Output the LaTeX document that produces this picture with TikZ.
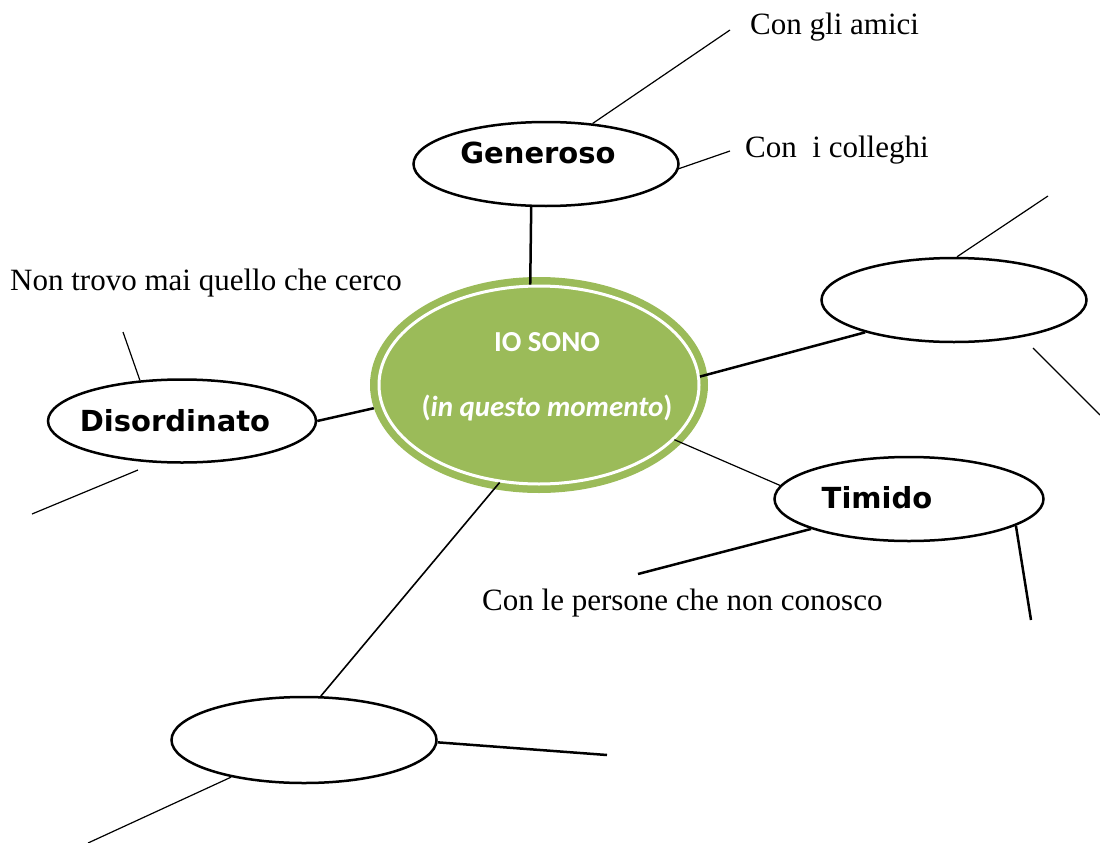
\documentclass[tikz,border=0pt]{standalone}
\usepackage{fontspec}
\setmainfont{Liberation Serif}
\newfontfamily\labelfont{DejaVu Sans}
\newfontfamily\ctrfont{Carlito}
\usetikzlibrary{shapes.geometric}
\definecolor{olivegreen}{HTML}{9BBB59}
\begin{document}
\begin{tikzpicture}[x=1pt,y=-1pt,
  bubble/.style={ellipse, draw=black, line width=2.5pt, fill=white, inner sep=0pt, minimum width=265pt},
  bubbletext/.style={font=\labelfont\bfseries\fontsize{29}{34}\selectfont, inner sep=0pt},
  note/.style={font=\fontsize{31}{36}\selectfont, inner sep=0pt, anchor=base west},
  thinlink/.style={line width=1.2pt},
  midlink/.style={line width=1.6pt},
  thicklink/.style={line width=2.5pt},
]
\useasboundingbox (0,0) rectangle (1100,843);

% central node
\node[ellipse, fill=olivegreen, inner sep=0pt, minimum width=338pt, minimum height=216pt] (ctr) at (539,385) {};
\node[ellipse, draw=white, line width=3pt, inner sep=0pt, minimum width=320pt, minimum height=198pt] (ctrin) at (539,385) {};
\node[font=\ctrfont\bfseries\fontsize{29}{65}\selectfont, text=white, align=center, inner sep=0pt] (ctrlabel) at (547,377) {IO SONO\\(\textit{in questo momento})};

% satellite bubbles
\node[bubble, minimum height=84pt] (gen) at (546,164) {};
\node[bubbletext] (genlabel) at (538,153) {Generoso};
\node[bubble, minimum height=84pt] (r1) at (954,300) {};
\node[bubble, minimum width=269pt, minimum height=84pt] (tim) at (909,499) {};
\node[bubbletext] (timlabel) at (877,498) {Timido};
\node[bubble, minimum width=268pt, minimum height=83pt] (dis) at (182,421) {};
\node[bubbletext] (dislabel) at (175,421) {Disordinato};
\node[bubble, minimum height=86pt] (b1) at (304,740) {};

% notes
\node[note] (amici) at (750,35) {Con gli amici};
\node[note] (colleghi) at (745,157) {Con~ i colleghi};
\node[note] (cerco) at (10,290) {Non trovo mai quello che cerco};
\node[note] (persone) at (482,610) {Con le persone che non conosco};

% free ends
\coordinate (amiciEnd) at (730,30);
\coordinate (collEnd) at (730,151);
\coordinate (r1top) at (1048,196);
\coordinate (r1rs) at (1033,348);
\coordinate (r1re) at (1100,415);
\coordinate (timL) at (638,574);
\coordinate (timR) at (1031,620);
\coordinate (disT) at (123,332);
\coordinate (disBs) at (138,470);
\coordinate (disBe) at (32,514);
\coordinate (b1R) at (607,755);
\coordinate (b1L) at (88,843);

% connectors
\draw[thicklink] (gen.251) -- (ctrin.95);
\draw[thinlink] (gen.41) -- (amiciEnd);
\draw[thinlink] (gen.-2) -- (collEnd);
\draw[thicklink] (ctrin.3) -- (r1.200);
\draw[thinlink] (r1.86) -- (r1top);
\draw[thinlink] (r1rs) -- (r1re);
\draw[thinlink] (ctrin.-22) -- (tim.174);
\draw[thicklink] (tim.197) -- (timL);
\draw[thicklink] (tim.-14) -- (timR);
\draw[thicklink] (dis.0) -- (ctr.188);
\draw[thinlink] (dis.136) -- (disT);
\draw[thinlink] (disBs) -- (disBe);
\draw[midlink] (ctrin.248) -- (b1.69);
\draw[thicklink] (b1.-1) -- (b1R);
\draw[thinlink] (b1.207) -- (b1L);
\end{tikzpicture}
\end{document}
